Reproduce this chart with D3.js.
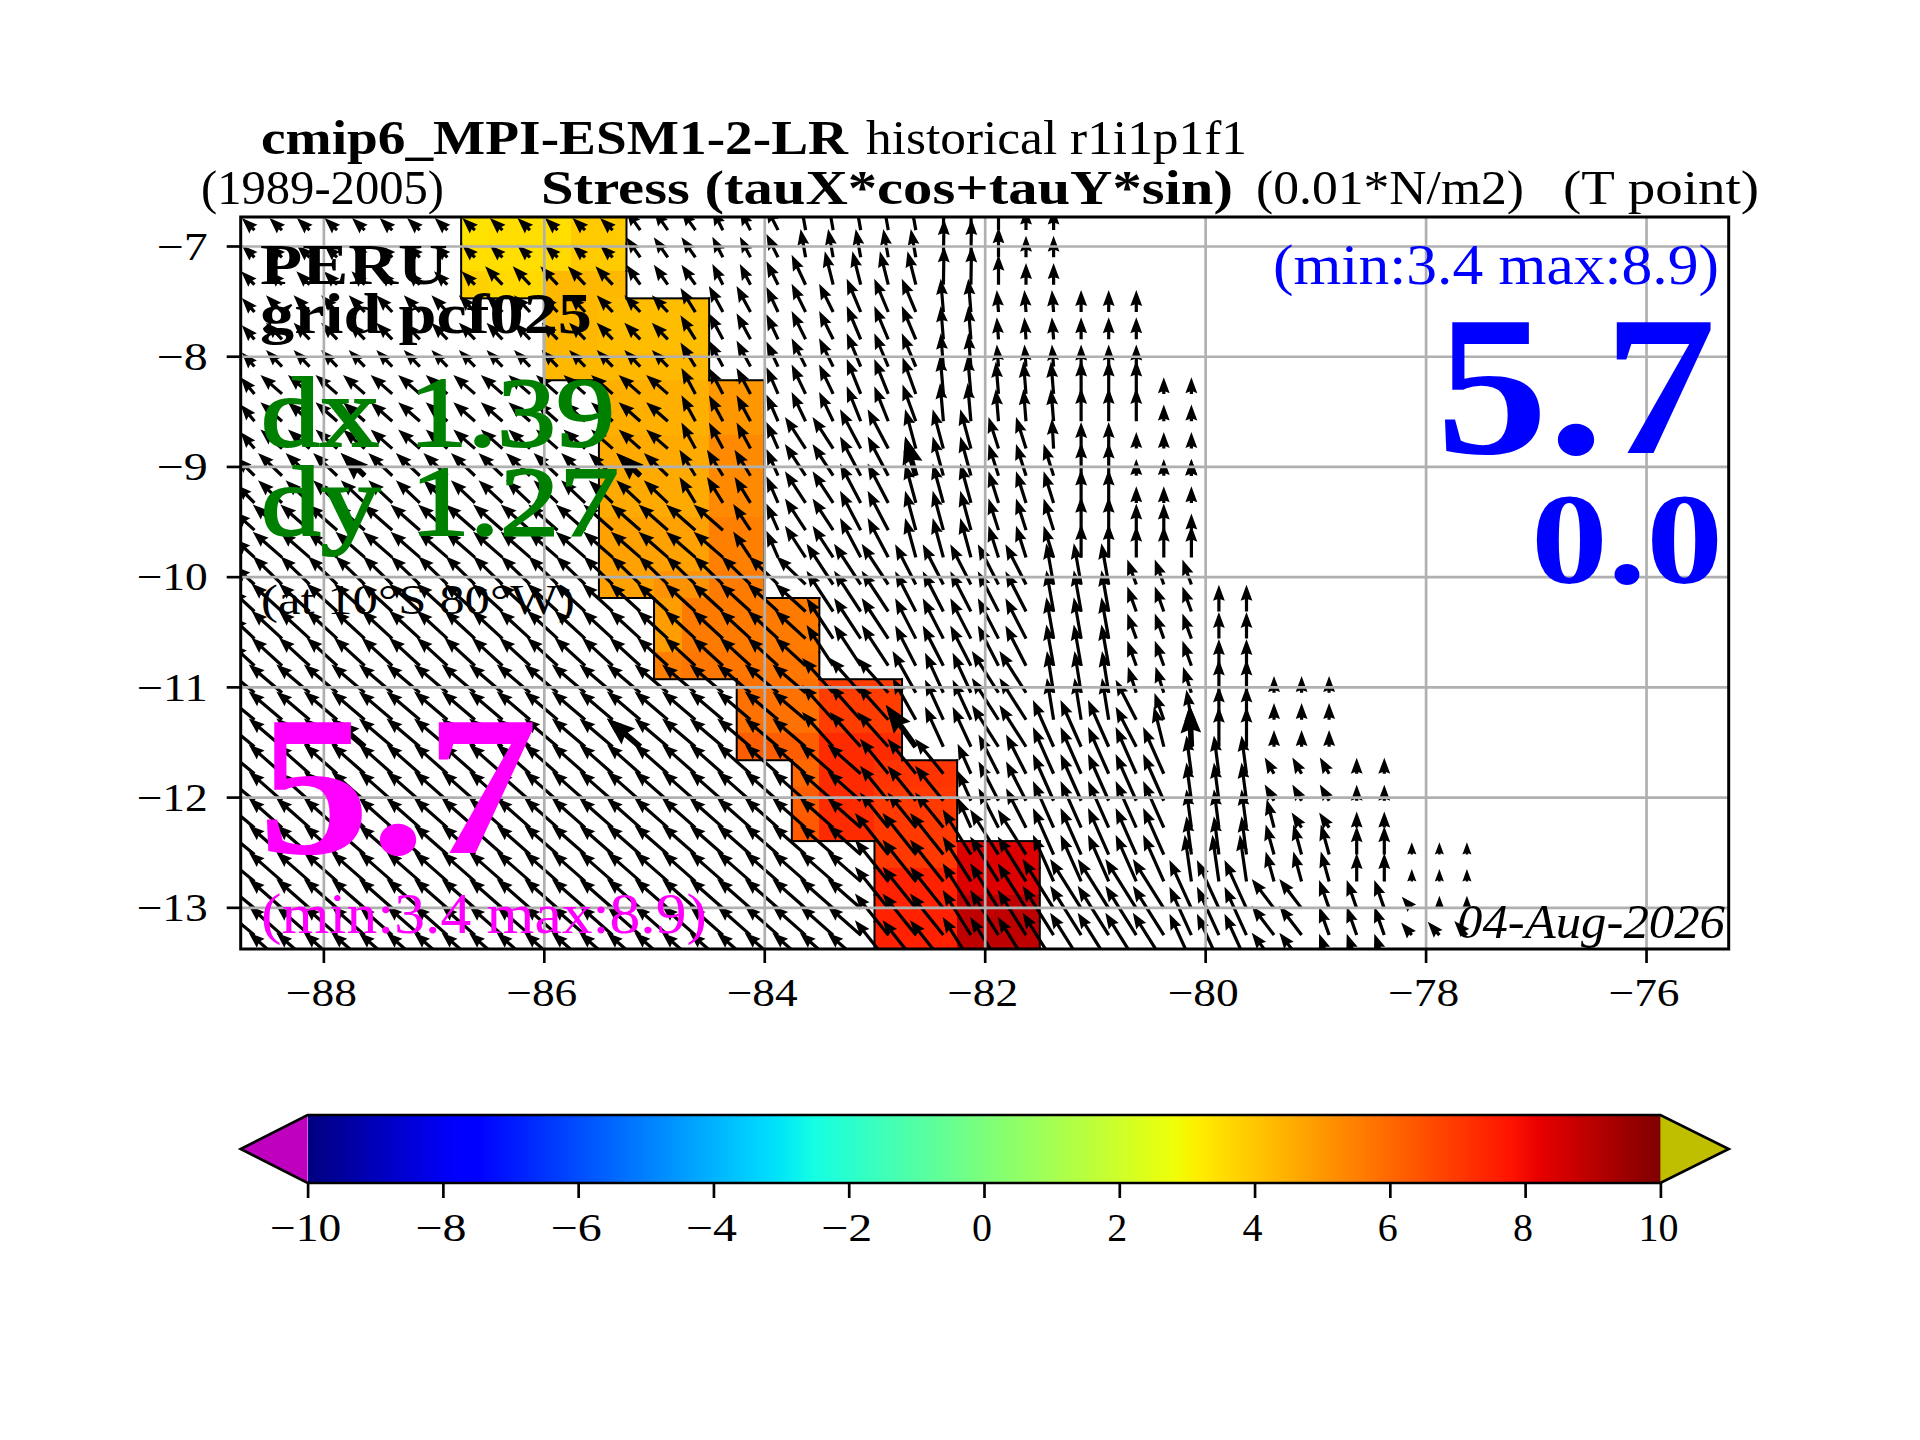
<!DOCTYPE html>
<html>
<head>
<meta charset="utf-8">
<script src="https://d3js.org/d3.v7.min.js"></script>
<style>
body { margin: 0; background: white; }
svg text { font-family: "Liberation Serif", serif; }
</style>
</head>
<body>
<svg id="chart" width="1920" height="1440"></svg>
<script>
// model grid (T points), longitudes are regular, latitudes shrink with cos(lat)
var lonCols = d3.range(45).map(i => -88.625 + i * 0.25);
var latRows = [-6.856, -7.103, -7.351, -7.599, -7.847, -8.094, -8.342, -8.590, -8.838, -9.084,
  -9.331, -9.578, -9.825, -10.071, -10.316, -10.562, -10.808, -11.053, -11.298, -11.543,
  -11.788, -12.033, -12.277, -12.521, -12.765, -13.009, -13.252, -13.496];

var lonTicks = [-88, -86, -84, -82, -80, -78, -76];
var latTicks = [-7, -8, -9, -10, -11, -12, -13];
var barTicks = [-10, -8, -6, -4, -2, 0, 2, 4, 6, 8, 10];

// coloured cells: first col, last col, first row, last row, value
var cellPatches = [
  [8,8,0,0,3.4],[9,11,0,0,3.5],[12,13,0,0,3.9],
  [8,10,1,1,3.5],[11,11,1,1,3.6],[12,13,1,1,3.9],
  [8,8,2,2,3.8],[9,10,2,2,3.6],[11,13,2,2,4.3],
  [11,12,3,4,4.3],[13,16,3,4,4.2],[11,16,5,5,4.3],
  [13,16,6,7,4.5],[17,18,6,7,5.0],
  [13,16,8,10,4.6],[17,18,8,10,5.3],
  [13,16,11,13,4.8],[17,18,11,12,5.5],[15,16,13,13,5.1],[17,18,13,13,5.6],
  [15,15,14,15,4.9],[16,20,14,15,5.6],[15,15,16,16,5.5],[16,20,16,16,5.7],
  [18,20,17,18,5.8],[21,23,17,18,6.9],[18,20,19,19,6.2],[21,23,19,19,7.3],
  [20,20,20,20,6.0],[21,22,20,20,7.3],[23,25,20,20,7.1],
  [20,20,21,21,6.2],[21,22,21,21,7.3],[23,25,21,21,7.0],
  [20,20,22,22,6.3],[21,22,22,22,7.3],[23,25,22,22,7.0],
  [23,25,23,23,7.0],[26,28,23,23,8.4],
  [23,25,24,24,7.5],[26,28,24,24,8.4],
  [23,25,25,27,7.5],[26,28,25,27,8.9]
];

// wind stress blocks: first col, last col, first row, last row, tauX, tauY (later rows win)
var stressPatches = [
  [0,13,0,1,-1.9,1.8],[0,8,2,2,-2,2],[9,13,2,2,-2.6,2.75],[14,16,0,2,-2.1,3.0],[17,18,0,2,-1.6,3.1],
  [0,0,3,5,-1.9,2.1],[1,15,3,5,-2.4,2.5],[16,16,3,5,-2.25,3.6],[17,18,3,5,-2.1,3.9],
  [0,0,6,8,-2.1,2.5],[1,15,6,8,-3.25,2.85],[16,18,6,8,-2.1,3.9],
  [0,0,9,10,-2.75,2.75],[1,15,9,10,-3.6,3.4],[16,18,9,10,-2.4,3.9],
  [0,0,11,12,-3,2.75],[1,17,11,12,-4.4,3.85],[18,18,11,12,-2.6,3.9],
  [0,0,13,13,-3,2.75],[1,20,13,13,-4.4,4.25],
  [0,0,14,16,-3.5,3.25],[1,20,14,16,-4.6,4.2],
  [0,0,17,19,-4.25,3.5],[1,20,17,19,-5,4.25],
  [0,0,20,27,-4.25,3.5],[1,22,20,27,-5,4.4],
  [19,19,0,2,-1.75,3.5],[20,24,0,1,-0.75,4.25],[20,20,2,2,-2.1,4.5],[21,24,2,2,-1.25,5],
  [25,26,0,2,0.1,5.75],[27,27,0,2,0,4.5],[28,29,0,2,0,3.25],
  [19,19,3,5,-1.75,3.75],[20,21,3,5,-2.1,4.25],[22,24,3,5,-2.1,5],[25,26,3,5,-0.4,5],
  [27,29,3,5,-0.25,3.3],[30,32,3,5,0,3.3],
  [19,19,6,7,-1.75,4],[20,21,6,7,-2.1,4.4],[22,23,6,7,-2.1,5.25],[24,24,6,7,-2,5.5],
  [25,26,6,7,-0.5,5.75],[27,29,6,7,-0.4,4.85],[30,32,6,7,0,5],[33,34,6,7,0,2.5],
  [19,19,8,12,-1.75,4],[20,21,8,12,-3.1,4.75],[22,23,8,12,-3.1,5.9],[24,26,8,12,-1.6,5.9],
  [27,29,8,12,-1.5,4.75],[29,29,8,8,-0.25,4.5],[30,31,8,8,0,4],[30,31,9,12,0,5],
  [32,34,8,10,0,2.5],[32,33,11,11,0,4],[34,34,11,11,0,2.5],[32,34,12,12,0,4.75],
  [21,23,13,16,-4,6.1],[24,28,13,16,-3.1,6.05],[29,31,13,16,-1.1,6.2],[32,34,13,16,-1.35,3.75],
  [35,36,14,16,0,4],
  [21,23,17,19,-4.65,5.2],[24,24,17,18,-3.5,6.25],[24,24,19,19,-4.5,6.25],[25,26,17,19,-2.75,6],[27,28,17,19,-4,6.25],
  [29,31,17,18,-1,6.25],[29,31,19,19,-3.1,7],[32,34,17,17,-1.25,3.9],[32,32,18,19,-3.1,6],
  [33,33,18,18,-1.4,4],[33,33,19,19,-1.5,6],[34,34,18,18,-0.75,4.5],[34,34,19,19,-0.25,6.25],
  [35,36,17,18,0,5],[35,36,19,19,0,6],[37,39,17,19,0,2.5],
  [23,25,20,22,-4.25,5.25],[26,26,20,22,-2,4.5],[27,28,20,22,-3,5.9],[29,33,20,24,-3.1,7],
  [34,36,20,23,-0.75,5.75],[34,36,24,24,-1,7],[37,39,20,21,-1.4,2.45],[37,37,22,22,-1.1,4.25],
  [38,39,22,22,-1.5,2.25],[37,39,23,24,-1.25,4.5],[40,41,20,22,0,2.4],[40,41,23,24,0,4.25],
  [42,44,23,24,0,1.85],
  [23,25,23,27,-5,6.25],[26,28,23,27,-4.25,6.75],
  [29,33,25,27,-4.65,7.4],[34,36,25,27,-3.3,7.25],[37,38,25,27,-3.35,4.4],[39,41,25,26,-1.5,4.25],
  [39,41,27,27,-1.5,4.25],[42,42,25,25,-1.5,1.75],[43,44,25,25,0,1.9],[42,42,26,26,-1.6,1.9],
  [43,43,26,26,-1.75,2],[44,44,26,26,-1.9,2.1]
];

// every 10th point also gets the thick arrow
var thickCols = [4, 14, 24, 34];
var thickRows = [9, 19];

var svg = d3.select("#chart");
var axL = 240.7, axR = 1728.7, axT = 217, axB = 949;

var x = d3.scaleLinear().domain([-88.75, -75.25]).range([axL, axR]);
var y = d3.scaleLinear().domain([-6.737, -13.378]).range([axT, axB]);
var unit = 20 / 3; // pixels per 0.01 N/m2 on the arrows

// matplotlib jet
var jetR = d3.scaleLinear().domain([0, 0.35, 0.66, 0.89, 1]).range([0, 0, 1, 1, 0.5]);
var jetG = d3.scaleLinear().domain([0, 0.125, 0.375, 0.64, 0.91, 1]).range([0, 0, 1, 1, 0, 0]);
var jetB = d3.scaleLinear().domain([0, 0.11, 0.34, 0.65, 1]).range([0.5, 1, 1, 0, 0]);
function jet(v) {
  var t = (v + 10) / 20;
  return d3.rgb(jetR(t) * 255, jetG(t) * 255, jetB(t) * 255).formatHex();
}

svg.append("clipPath").attr("id", "axesClip").append("rect")
  .attr("x", axL).attr("y", axT).attr("width", axR - axL).attr("height", axB - axT);

var plot = svg.append("g").attr("clip-path", "url(#axesClip)");

// cell edges half way between the T points
function latEdge(r) {
  if (r <= 0) return latRows[0] + 0.124;
  if (r >= latRows.length) return latRows[latRows.length - 1] - 0.12;
  return (latRows[r - 1] + latRows[r]) / 2;
}

var cellValue = new Map();
cellPatches.forEach(p => {
  for (var c = p[0]; c <= p[1]; c++)
    for (var r = p[2]; r <= p[3]; r++) cellValue.set(c + "_" + r, p[4]);
});
var cells = Array.from(cellValue, d => {
  var k = d[0].split("_");
  return { c: +k[0], r: +k[1], v: d[1] };
});

plot.append("g").selectAll("rect").data(cells).enter().append("rect")
  .attr("x", d => x(lonCols[d.c] - 0.125))
  .attr("y", d => y(latEdge(d.r)))
  .attr("width", d => x(lonCols[d.c] + 0.125) - x(lonCols[d.c] - 0.125) + 0.5)
  .attr("height", d => y(latEdge(d.r + 1)) - y(latEdge(d.r)) + 0.5)
  .attr("shape-rendering", "crispEdges")
  .attr("fill", d => jet(d.v));

// outline round the coloured region
var outline = [];
cells.forEach(d => {
  var w = x(lonCols[d.c] - 0.125), e = x(lonCols[d.c] + 0.125);
  var n = y(latEdge(d.r)), s = y(latEdge(d.r + 1));
  if (!cellValue.has((d.c - 1) + "_" + d.r)) outline.push([w, n, w, s]);
  if (!cellValue.has((d.c + 1) + "_" + d.r)) outline.push([e, n, e, s]);
  if (!cellValue.has(d.c + "_" + (d.r - 1))) outline.push([w, n, e, n]);
  if (!cellValue.has(d.c + "_" + (d.r + 1))) outline.push([w, s, e, s]);
});
plot.append("g").selectAll("line").data(outline).enter().append("line")
  .attr("x1", d => d[0]).attr("y1", d => d[1])
  .attr("x2", d => d[2]).attr("y2", d => d[3])
  .attr("stroke", "black").attr("stroke-width", 2).attr("stroke-linecap", "square");

// quiver
var stress = new Map();
stressPatches.forEach(p => {
  for (var c = p[0]; c <= p[1]; c++)
    for (var r = p[2]; r <= p[3]; r++) stress.set(c + "_" + r, [p[4], p[5]]);
});
var arrows = Array.from(stress, d => {
  var k = d[0].split("_");
  return { c: +k[0], r: +k[1], u: d[1][0], v: d[1][1] };
});

// close to a matplotlib quiver arrow, w is the shaft width in px
function arrowPath(d, w) {
  var len = Math.hypot(d.u, d.v) * unit / w;
  var s = len < 5 ? len / 5 : 1;
  var pts = [[0, 0.5 * s], [len - 4.5 * s, 0.5 * s], [len - 5 * s, 1.85 * s], [len, 0],
    [len - 5 * s, -1.85 * s], [len - 4.5 * s, -0.5 * s], [0, -0.5 * s]];
  var a = Math.atan2(-d.v, d.u), ca = Math.cos(a), sa = Math.sin(a);
  var x0 = x(lonCols[d.c]), y0 = y(latRows[d.r]);
  return "M" + pts.map(p => (x0 + w * (p[0] * ca - p[1] * sa)).toFixed(1) + "," +
    (y0 + w * (p[0] * sa + p[1] * ca)).toFixed(1)).join("L") + "Z";
}

plot.append("g").selectAll("path").data(arrows).enter().append("path")
  .attr("d", d => arrowPath(d, 3.2)).attr("fill", "black");

var thick = arrows.filter(d => thickCols.includes(d.c) && thickRows.includes(d.r));
plot.append("g").selectAll("path").data(thick).enter().append("path")
  .attr("d", d => arrowPath(d, 5.6)).attr("fill", "black");

// grid above the arrows
var gridX = svg.append("g").attr("transform", "translate(0," + axB + ")")
  .call(d3.axisBottom(x).tickValues(lonTicks).tickSize(axT - axB).tickFormat(""));
var gridY = svg.append("g").attr("transform", "translate(" + axL + ",0)")
  .call(d3.axisLeft(y).tickValues(latTicks).tickSize(axL - axR).tickFormat(""));
[gridX, gridY].forEach(g => {
  g.select(".domain").remove();
  g.selectAll("line").attr("stroke", "#b0b0b0").attr("stroke-width", 2.67);
});

// axes
function minusLabel(v) { return String(v).replace("-", "\u2212"); }
function labelWidth(v) { return String(Math.abs(v)).length * 20 + (v < 0 ? 31 : 0); }

var axisX = svg.append("g").attr("transform", "translate(0," + axB + ")")
  .call(d3.axisBottom(x).tickValues(lonTicks).tickSize(14).tickFormat(minusLabel));
var axisY = svg.append("g").attr("transform", "translate(" + axL + ",0)")
  .call(d3.axisLeft(y).tickValues(latTicks).tickSize(14).tickFormat(minusLabel));
axisX.selectAll("text").attr("y", 57).attr("dy", 0).attr("dx", -2.5);
axisY.selectAll("text").attr("x", -33).attr("dy", "0.33em");
[axisX, axisY].forEach(g => {
  g.select(".domain").remove();
  g.selectAll("line").attr("stroke", "black").attr("stroke-width", 2.67);
  g.selectAll("text").attr("fill", "black").style("font-size", "40px")
    .attr("textLength", v => labelWidth(v)).attr("lengthAdjust", "spacingAndGlyphs");
});
svg.append("rect").attr("x", axL).attr("y", axT).attr("width", axR - axL).attr("height", axB - axT)
  .attr("fill", "none").attr("stroke", "black").attr("stroke-width", 3);

// all the labels, baseline position and measured width
function label(txt, px, py, size, width, opt) {
  opt = opt || {};
  var t = svg.append("text").attr("x", px).attr("y", py).text(txt)
    .style("font-size", size + "px")
    .attr("fill", opt.fill || "black")
    .attr("textLength", width).attr("lengthAdjust", "spacingAndGlyphs");
  if (opt.bold) t.style("font-weight", "bold");
  if (opt.italic) t.style("font-style", "italic");
  if (opt.stroke) t.attr("stroke", opt.fill || "black").attr("stroke-width", opt.stroke);
}

label("cmip6_MPI-ESM1-2-LR", 261, 154, 48, 587, { bold: true });
label("historical r1i1p1f1", 866, 154, 48, 381);
label("(1989-2005)", 201, 204, 48, 243);
label("Stress (tauX*cos+tauY*sin)", 541, 204, 48, 692, { bold: true });
label("(0.01*N/m2)", 1256, 204, 48, 268);
label("(T point)", 1563, 204, 48, 196);

label("PERU", 260, 284, 57.6, 188, { bold: true });
label("grid pcf025", 260, 333, 57.6, 332, { bold: true });
label("dx 1.39", 261, 446, 100, 354, { fill: "green", stroke: 2 });
label("dy 1.27", 261, 535, 100, 358, { fill: "green", stroke: 2 });
label("(at 10\u00b0S 80\u00b0W)", 261, 614, 43, 314);
label("5.7", 258, 853, 200, 280, { fill: "magenta", bold: true });
label("(min:3.4 max:8.9)", 261, 933, 57.6, 446, { fill: "magenta" });

label("(min:3.4 max:8.9)", 1273, 284, 57.6, 446, { fill: "blue" });
label("5.7", 1436, 453, 200, 280, { fill: "blue", bold: true });
label("0.0", 1531, 583, 130, 192, { fill: "blue", bold: true });
label("04-Aug-2026", 1457, 938, 48, 268, { italic: true });

// colorbar
var barX = d3.scaleLinear().domain([-10, 10]).range([307.6, 1660.4]);
var barTop = 1115, barBottom = 1183, barMid = 1149;
var levels = d3.range(1024).map(i => -10 + (i + 0.5) * 20 / 1024);
var levelWidth = barX(20 / 1024) - barX(0);

svg.append("g").selectAll("rect").data(levels).enter().append("rect")
  .attr("x", d => barX(d) - levelWidth / 2)
  .attr("y", barTop)
  .attr("width", levelWidth + 0.5)
  .attr("height", barBottom - barTop)
  .attr("shape-rendering", "crispEdges")
  .attr("fill", d => jet(d));

svg.append("path")
  .attr("d", "M" + barX(-10) + "," + barTop + "L" + axL + "," + barMid + "L" + barX(-10) + "," + barBottom + "Z")
  .attr("fill", "#bf00bf");
svg.append("path")
  .attr("d", "M" + barX(10) + "," + barTop + "L" + axR + "," + barMid + "L" + barX(10) + "," + barBottom + "Z")
  .attr("fill", "#bfbf00");
svg.append("path")
  .attr("d", "M" + barX(-10) + "," + barTop + "L" + barX(10) + "," + barTop + "L" + axR + "," + barMid + "L" +
    barX(10) + "," + barBottom + "L" + barX(-10) + "," + barBottom + "L" + axL + "," + barMid + "Z")
  .attr("fill", "none").attr("stroke", "black").attr("stroke-width", 2.67);

var axisBar = svg.append("g").attr("transform", "translate(0," + barBottom + ")")
  .call(d3.axisBottom(barX).tickValues(barTicks).tickSize(15).tickFormat(minusLabel));
axisBar.select(".domain").remove();
axisBar.selectAll("line").attr("stroke", "black").attr("stroke-width", 2.67);
axisBar.selectAll("text").attr("y", 58).attr("dy", 0).attr("dx", -2.5).attr("fill", "black").style("font-size", "40px")
  .attr("textLength", v => labelWidth(v)).attr("lengthAdjust", "spacingAndGlyphs");
</script>
</body>
</html>
